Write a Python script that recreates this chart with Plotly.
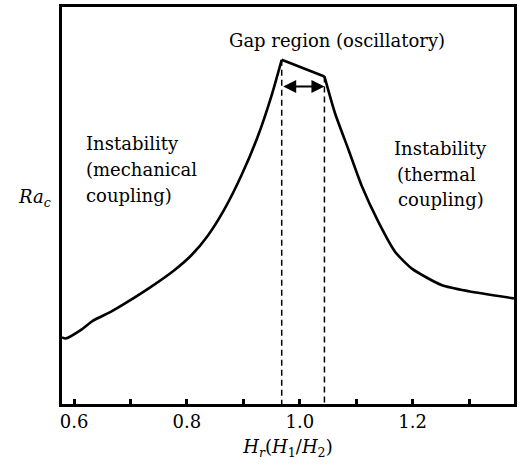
import plotly.graph_objects as go

# Curve (arbitrary Ra_c units, 0-100 span of the axis)
hr = [0.5786, 0.585, 0.6118, 0.6325, 0.665, 0.6947, 0.7363, 0.7777, 0.8075,
      0.837, 0.8666, 0.8963, 0.9259, 0.9496, 0.968, 1.0437, 1.0623, 1.0862,
      1.1099, 1.1395, 1.1691, 1.1986, 1.2521, 1.2994, 1.3794]
rac = [16.8, 16.5, 18.6, 20.9, 23.2, 25.7, 29.5, 33.7, 37.4,
       42.4, 49.1, 57.5, 67.5, 77.5, 86.7, 82.5, 73.3, 64.1,
       54.9, 45.8, 38.3, 34.1, 29.9, 28.4, 26.6]
peak_i = 14   # left end of the gap (maximum)
gap_i = 15    # right end of the gap

gap_x = [hr[peak_i], hr[gap_i]]
gap_top = [rac[peak_i], rac[gap_i]]
arrow_y = 80.0

left_lines = ["Instability", "(mechanical", "coupling)"]
right_lines = ["Instability", "(thermal", "coupling)"]

FONT = "DejaVu Serif"
FS = 18

fig = go.Figure()
segments = [(0, peak_i + 1, "spline"), (peak_i, gap_i + 1, "linear"),
            (gap_i, len(hr), "spline")]
for a, b, shape in segments:
    fig.add_trace(go.Scatter(x=hr[a:b], y=rac[a:b], mode="lines",
                             line=dict(color="black", width=2.6, shape=shape,
                                       smoothing=0.6 if shape == "spline" else None),
                             showlegend=False, hoverinfo="skip"))
for gx, gt in zip(gap_x, gap_top):
    fig.add_trace(go.Scatter(x=[gx, gx], y=[gt, 0], mode="lines",
                             line=dict(color="black", width=1.5, dash="6px,4px"),
                             showlegend=False, hoverinfo="skip"))

fig.add_annotation(x=gap_x[1], y=arrow_y, ax=gap_x[0], ay=arrow_y,
                   xref="x", yref="y", axref="x", ayref="y",
                   text="", showarrow=True, arrowhead=2, arrowside="end+start",
                   arrowsize=1.3, arrowwidth=2, arrowcolor="black")

fig.add_annotation(x=1.066, y=91.5, xref="x", yref="y",
                   text="Gap region (oscillatory)", showarrow=False,
                   font=dict(family=FONT, size=FS, color="black"))

left_y = [65.5, 59.0, 52.4]
for t, yy in zip(left_lines, left_y):
    fig.add_annotation(x=0.6177, y=yy, xref="x", yref="y", xanchor="left",
                       text=t, showarrow=False,
                       font=dict(family=FONT, size=FS, color="black"))
right_y = [64.3, 57.8, 51.5]
right_x = [1.2485, 1.242, 1.25]
for t, xx, yy in zip(right_lines, right_x, right_y):
    fig.add_annotation(x=xx, y=yy, xref="x", yref="y",
                       text=t, showarrow=False,
                       font=dict(family=FONT, size=FS, color="black"))

fig.add_annotation(x=-0.02, y=52.0, xref="paper", yref="y", xanchor="right",
                   yanchor="middle",
                   text="<i>Ra</i><sub><i>c</i></sub>", showarrow=False,
                   font=dict(family=FONT, size=FS, color="black"))

fig.update_layout(
    width=526, height=466,
    margin=dict(l=62, r=12, t=4, b=62),
    paper_bgcolor="white", plot_bgcolor="white",
    font=dict(family=FONT, size=FS, color="black"),
    xaxis=dict(range=[0.5787, 1.3796], tick0=0.6, dtick=0.2, tickformat=".1f",
               ticks="inside", ticklen=5, tickwidth=2.5, tickcolor="black",
               minor=dict(dtick=0.1, tick0=0.6, ticks="inside", ticklen=5,
                          tickwidth=2.5, tickcolor="black", showgrid=False),
               showline=True, linecolor="black", linewidth=2.5, mirror=True,
               showgrid=False, zeroline=False,
               tickfont=dict(family=FONT, size=FS),
               title=dict(text="<i>H</i><sub><i>r</i></sub>(<i>H</i><sub>1</sub>/<i>H</i><sub>2</sub>)",
                          font=dict(family=FONT, size=FS), standoff=10)),
    yaxis=dict(range=[0, 100], showticklabels=False, ticks="",
               showline=True, linecolor="black", linewidth=2.5, mirror=True,
               showgrid=False, zeroline=False),
)

fig.write_html("out.html", config={"displayModeBar": False},
               post_script="document.body.style.margin='0';")
